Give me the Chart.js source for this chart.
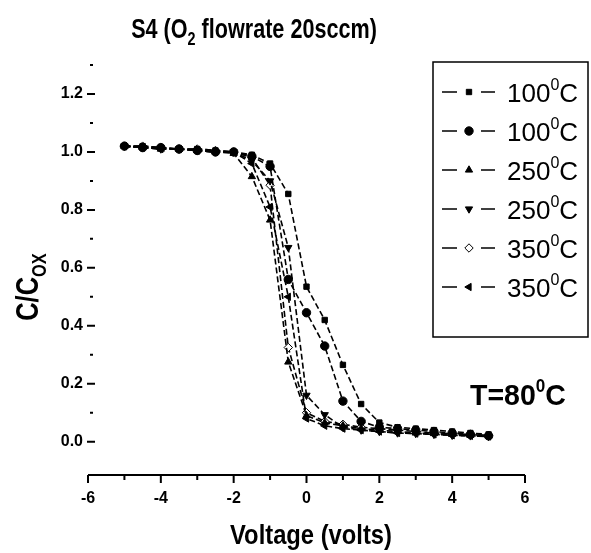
<!DOCTYPE html>
<html>
<head>
<meta charset="utf-8">
<script src="https://cdn.jsdelivr.net/npm/chart.js@4.4.1/dist/chart.umd.min.js"></script>
<style>
  html, body { margin: 0; padding: 0; background: #fff; }
</style>
</head>
<body>
<canvas id="chart" width="591" height="553"></canvas>
<script>
// voltage sweep, -5 V .. 5 V every 0.5 V
const voltage = [-5, -4.5, -4, -3.5, -3, -2.5, -2, -1.5, -1, -0.5, 0, 0.5, 1, 1.5, 2, 2.5, 3, 3.5, 4, 4.5, 5]

// C/Cox
const sq100 = [1.02, 1.02, 1.015, 1.01, 1.01, 1.005, 1.0, 0.99, 0.96, 0.855, 0.535, 0.42, 0.265, 0.13, 0.066, 0.05, 0.045, 0.04, 0.035, 0.03, 0.025]
const ci100 = [1.02, 1.015, 1.015, 1.01, 1.005, 1.0, 1.0, 0.985, 0.95, 0.56, 0.445, 0.33, 0.14, 0.07, 0.05, 0.045, 0.04, 0.035, 0.03, 0.025, 0.02]
const up250 = [1.02, 1.015, 1.01, 1.01, 1.005, 1.0, 0.995, 0.915, 0.765, 0.275, 0.09, 0.065, 0.055, 0.045, 0.04, 0.035, 0.03, 0.028, 0.025, 0.022, 0.02]
const dn250 = [1.02, 1.015, 1.01, 1.01, 1.005, 1.0, 1.0, 0.97, 0.9, 0.67, 0.16, 0.093, 0.05, 0.04, 0.035, 0.03, 0.028, 0.025, 0.022, 0.02, 0.018]
const di350 = [1.02, 1.02, 1.015, 1.01, 1.01, 1.005, 1.0, 0.98, 0.885, 0.325, 0.1, 0.07, 0.06, 0.05, 0.045, 0.04, 0.035, 0.03, 0.027, 0.025, 0.022]
const lt350 = [1.02, 1.015, 1.01, 1.01, 1.005, 1.0, 1.0, 0.96, 0.81, 0.5, 0.08, 0.055, 0.045, 0.04, 0.035, 0.03, 0.028, 0.025, 0.022, 0.02, 0.018]

const seriesLabels = ['100', '100', '250', '250', '350', '350']

const xTicks = [-6, -4, -2, 0, 2, 4, 6]
const xTickLabels = ['-6', '-4', '-2', '0', '2', '4', '6']
const xMinor = [-5, -3, -1, 1, 3, 5]
const yTicks = [0, 0.2, 0.4, 0.6, 0.8, 1.0, 1.2]
const yTickLabels = ['0.0', '0.2', '0.4', '0.6', '0.8', '1.0', '1.2']
const yMinor = [0.1, 0.3, 0.5, 0.7, 0.9, 1.1, 1.3]

const sans = '"Liberation Sans", Arial, sans-serif'

const marks = [
  { data: sq100, pointStyle: 'rect', rotation: 0, fill: '#000' },
  { data: ci100, pointStyle: 'circle', rotation: 0, fill: '#000' },
  { data: up250, pointStyle: 'triangle', rotation: 0, fill: '#000' },
  { data: dn250, pointStyle: 'triangle', rotation: 180, fill: '#000' },
  { data: di350, pointStyle: 'rectRot', rotation: 0, fill: '#fff' },
  { data: lt350, pointStyle: 'triangle', rotation: -90, fill: '#000' }
]

const datasets = marks.map((m, i) => ({
  label: seriesLabels[i] + '\u2070C',
  data: voltage.map((v, j) => ({ x: v, y: m.data[j] })),
  borderColor: '#000',
  borderWidth: 1.6,
  borderDash: [6, 3],
  pointStyle: m.pointStyle,
  rotation: m.rotation,
  pointRadius: m.pointStyle === 'rect' ? 3.8 : 4.2,
  pointBackgroundColor: m.fill,
  pointBorderColor: '#000',
  pointBorderWidth: 1,
  tension: 0
}))

// a row of text pieces (sub/superscripts), squeezed by sx to look condensed
function drawRuns (ctx, runs, x, y, align, sx = 1) {
  let total = 0
  runs.forEach(r => { ctx.font = r.font; r.w = ctx.measureText(r.text).width; total += r.w })
  ctx.save()
  ctx.translate(x, y)
  ctx.scale(sx, 1)
  let cx = align === 'center' ? -total / 2 : 0
  runs.forEach(r => {
    ctx.font = r.font
    ctx.fillText(r.text, cx, r.dy || 0)
    cx += r.w
  })
  ctx.restore()
}

const extras = {
  id: 'extras',
  afterDraw (chart) {
    const { ctx, chartArea: a, scales: { x, y } } = chart
    ctx.save()
    ctx.strokeStyle = '#000'
    ctx.fillStyle = '#000'

    // bottom axis line and ticks
    ctx.lineWidth = 2
    ctx.beginPath()
    ctx.moveTo(a.left, a.bottom)
    ctx.lineTo(a.right, a.bottom)
    xTicks.forEach(v => { const px = x.getPixelForValue(v); ctx.moveTo(px, a.bottom); ctx.lineTo(px, a.bottom + 8) })
    xMinor.forEach(v => { const px = x.getPixelForValue(v); ctx.moveTo(px, a.bottom); ctx.lineTo(px, a.bottom + 5) })
    // left ticks, pointing in
    yTicks.forEach(v => { const py = y.getPixelForValue(v); ctx.moveTo(a.left - 1, py); ctx.lineTo(a.left + 7, py) })
    yMinor.forEach(v => { const py = y.getPixelForValue(v); ctx.moveTo(a.left + 2, py); ctx.lineTo(a.left + 5, py) })
    ctx.stroke()

    ctx.textBaseline = 'alphabetic'
    drawRuns(ctx, [
      { text: 'S4 (O', font: 'bold 27px ' + sans },
      { text: '2', font: 'bold 18px ' + sans, dy: 7 },
      { text: ' flowrate 20sccm)', font: 'bold 27px ' + sans }
    ], 254, 38, 'center', 0.8)

    drawRuns(ctx, [{ text: 'Voltage (volts)', font: 'bold 27px ' + sans }], 311, 544, 'center', 0.88)

    ctx.save()
    ctx.translate(38, 287)
    ctx.rotate(-Math.PI / 2)
    drawRuns(ctx, [
      { text: 'C/C', font: 'bold 31px ' + sans },
      { text: 'OX', font: 'bold 20px ' + sans, dy: 8 }
    ], 0, 0, 'center', 0.82)
    ctx.restore()

    drawRuns(ctx, [
      { text: 'T=80', font: 'bold 30px ' + sans },
      { text: '0', font: 'bold 18px ' + sans, dy: -13 },
      { text: 'C', font: 'bold 30px ' + sans }
    ], 470, 405, 'left', 0.95)

    // legend box
    ctx.lineWidth = 1.5
    ctx.strokeRect(433, 62, 155, 275)
    chart.data.datasets.forEach((ds, i) => {
      const base = 102 + i * 39
      const my = base - 10
      ctx.lineWidth = 1.6
      ctx.beginPath()
      ctx.moveTo(442, my); ctx.lineTo(457, my)
      ctx.moveTo(481, my); ctx.lineTo(495, my)
      ctx.stroke()
      ctx.fillStyle = ds.pointBackgroundColor
      ctx.lineWidth = 1
      Chart.helpers.drawPoint(ctx, {
        pointStyle: ds.pointStyle, rotation: ds.rotation, radius: ds.pointRadius, borderWidth: 1
      }, 469, my)
      ctx.fillStyle = '#000'
      drawRuns(ctx, [
        { text: seriesLabels[i], font: '26px ' + sans },
        { text: '0', font: '16px ' + sans, dy: -12 },
        { text: 'C', font: '26px ' + sans }
      ], 507, base, 'left', 1)
    })
    ctx.restore()
  }
}

new Chart(document.getElementById('chart').getContext('2d'), {
  type: 'line',
  data: { datasets },
  options: {
    responsive: false,
    animation: false,
    devicePixelRatio: 1,
    layout: { padding: { left: 0, right: 66, top: 65, bottom: 0 } },
    plugins: { legend: { display: false }, tooltip: { enabled: false }, title: { display: false } },
    scales: {
      x: {
        type: 'linear',
        min: -6,
        max: 6,
        grid: { display: false, drawTicks: false },
        border: { display: false },
        afterBuildTicks: s => { s.ticks = xTicks.map(v => ({ value: v })) },
        afterFit: s => { s.height = 78 },
        ticks: {
          padding: 14,
          autoSkip: false,
          maxRotation: 0,
          color: '#000',
          font: { family: sans, size: 16, weight: 'bold' },
          callback: (v, i) => xTickLabels[i]
        }
      },
      y: {
        type: 'linear',
        min: -0.115,
        max: 1.3,
        grid: { display: false, drawTicks: false },
        border: { display: false },
        afterBuildTicks: s => { s.ticks = yTicks.map(v => ({ value: v })) },
        afterFit: s => { s.width = 88 },
        ticks: {
          padding: 5,
          color: '#000',
          font: { family: sans, size: 16, weight: 'bold' },
          callback: (v, i) => yTickLabels[i]
        }
      }
    }
  },
  plugins: [extras]
})
</script>
</body>
</html>
